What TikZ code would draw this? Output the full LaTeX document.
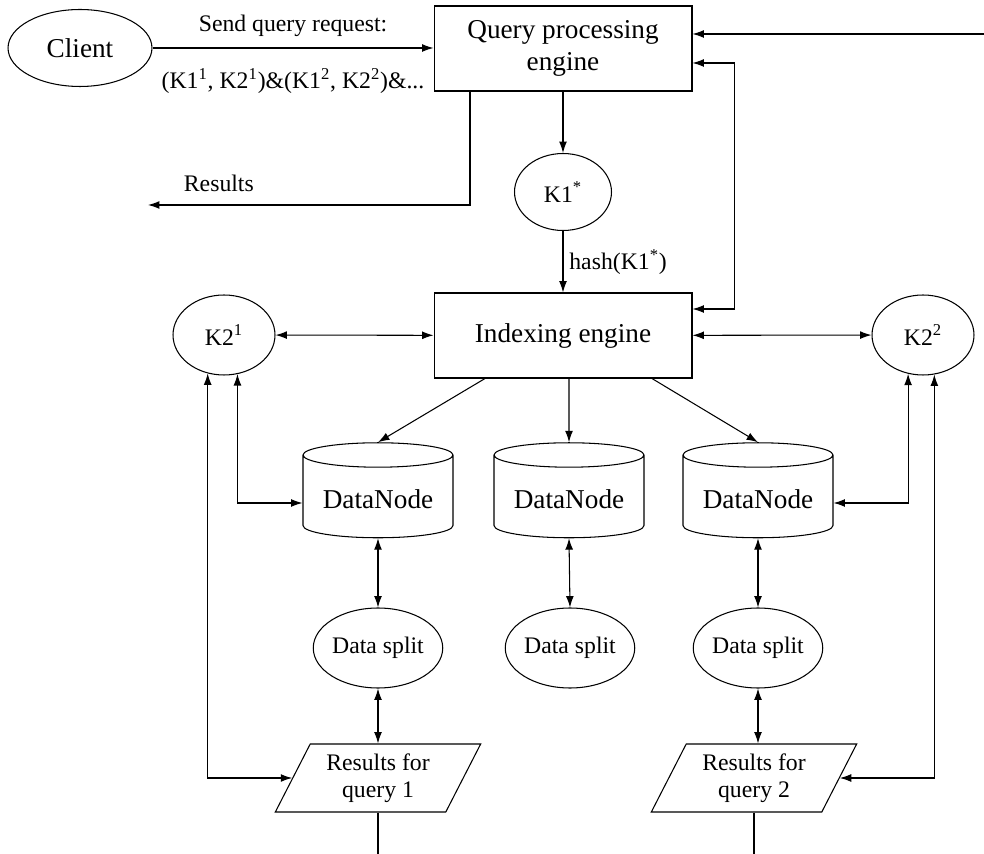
\documentclass[tikz,border=0pt]{standalone}
\usepackage{fontspec}
\setmainfont{Liberation Serif}
\usetikzlibrary{shapes.geometric, arrows.meta}
\newcommand{\bigtxt}{\fontsize{15.5}{18}\selectfont}
\newcommand{\smalltxt}{\fontsize{13.5}{15.5}\selectfont}
\tikzset{
  box/.style={draw, minimum width=5.16cm, minimum height=1.7cm, align=center, font=\bigtxt},
  oval/.style={draw, ellipse, inner sep=0pt, font=\smalltxt},
  store/.style={draw, cylinder, shape border rotate=90, aspect=0.2, minimum width=3cm, minimum height=1.9cm, font=\bigtxt},
  result/.style={draw, trapezium, trapezium left angle=64, trapezium right angle=116, trapezium stretches=true, minimum width=4.14cm, minimum height=1.36cm, align=center, font=\smalltxt},
  lbl/.style={font=\smalltxt}
}
\begin{document}
\begin{tikzpicture}[x=0.02cm, y=-0.02cm, >={Latex[length=6.5pt,width=4.5pt]}, semithick]
	\useasboundingbox (0,0) rectangle (984,854);
	% top row
	\node[oval, minimum width=2.88cm, minimum height=1.54cm, font=\bigtxt] (client) at (80,48) {Client};
	\node[box] (query) at (563,48.5) {Query processing\\engine};
	\node[oval, minimum width=1.94cm, minimum height=1.54cm] (k1) at (563,192) {K1\textsuperscript{*}};
	% indexing row
	\node[box] (index) at (563,335.5) {Indexing engine};
	\node[oval, minimum width=2.04cm, minimum height=1.6cm] (k21) at (224,335) {K2\textsuperscript{1}};
	\node[oval, minimum width=2.04cm, minimum height=1.6cm] (k22) at (923,335) {K2\textsuperscript{2}};
	% data nodes
	\node[store] (dn1) at (378,499) {DataNode};
	\node[store] (dn2) at (569,499) {DataNode};
	\node[store] (dn3) at (758,499) {DataNode};
	\node[oval, minimum width=2.46cm, minimum height=1.6cm] (ds1) at (378,648) {Data split};
	\node[oval, minimum width=2.46cm, minimum height=1.6cm] (ds2) at (570,648) {Data split};
	\node[oval, minimum width=2.46cm, minimum height=1.6cm] (ds3) at (758,648) {Data split};
	\node[result] (res1) at (378,778) {Results for\\query 1};
	\node[result] (res2) at (754,778) {Results for\\query 2};
	\coordinate (resout) at (148,205);
	\coordinate (ext) at (984,34);

	\draw[->] (client) -- (query.west |- client)
		node[lbl, midway, above=3pt] {Send query request:}
		node[lbl, midway, below=8pt] {(K1\textsuperscript{1}, K2\textsuperscript{1})\&(K1\textsuperscript{2}, K2\textsuperscript{2})\&...};
	\draw[->] ([xshift=-1.86cm]query.south) |- (resout) node[lbl, pos=0.89, above=4pt] {Results};
	\draw[->] (ext) -- (ext -| query.east);
	\draw[<->] ([yshift=-0.29cm]query.east) -- ++(0.84cm,0) |- ([yshift=0.53cm]index.east);
	\draw[->] (query) -- (k1);
	\draw[->] (k1) -- (index) node[lbl, midway, right] {hash(K1\textsuperscript{*})};
	\draw[<->] (k21) -- (index);
	\draw[<->] (index) -- (k22);
	\draw[->] ([xshift=-1.56cm]index.south) -- (dn1.north);
	\draw[->] (index.south -| dn2) -- (dn2.north);
	\draw[->] ([xshift=1.78cm]index.south) -- (dn3.north);
	\draw[<->] ([yshift=-0.08cm]dn1.west) -| (k21.289);
	\draw[<->] (res1.west) -| (k21.247);
	\draw[<->] ([yshift=-0.08cm]dn3.east) -| (k22.249);
	\draw[<->] (res2.east) -| (k22.286);
	\foreach \i in {1,2,3}
		\draw[<->] (dn\i.south) -- (ds\i.north);
	\draw[<->] (ds1.south) -- (ds1.south |- res1.north);
	\draw[<->] (ds3.south) -- (ds3.south |- res2.north);
	\draw (res1.south) -- ++(0,-0.84cm);
	\draw (res2.south) -- ++(0,-0.84cm);
\end{tikzpicture}
\end{document}
